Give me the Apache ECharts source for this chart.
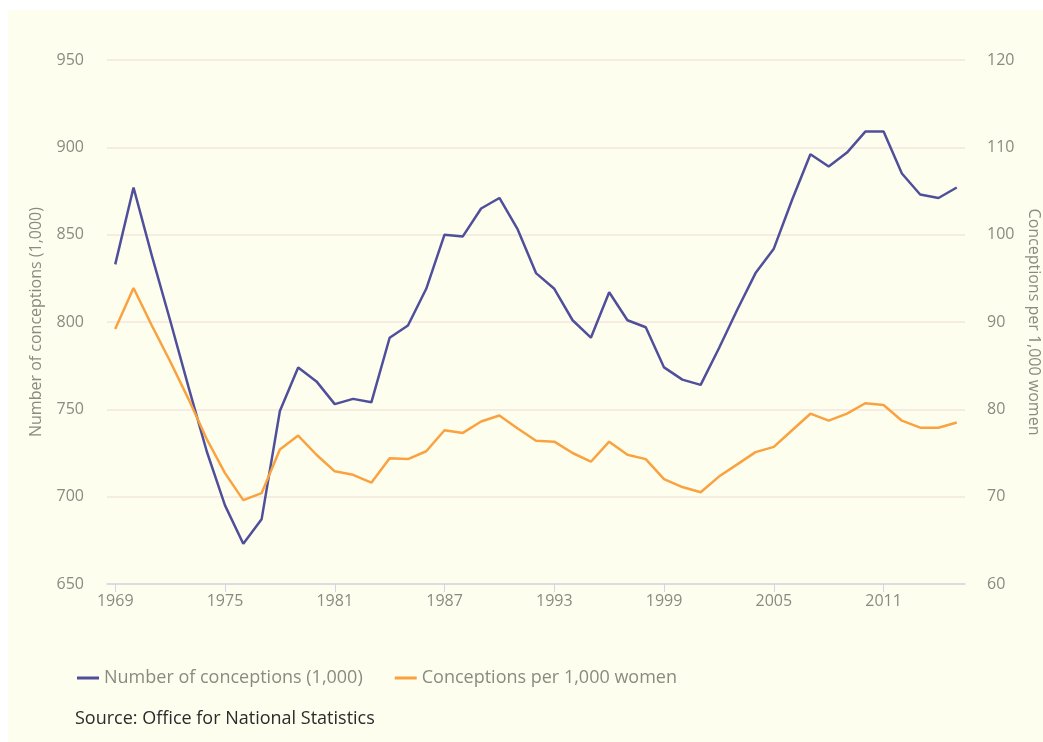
<!DOCTYPE html>
<html>
<head>
<meta charset="utf-8">
<script src="https://cdn.jsdelivr.net/npm/echarts@6/dist/echarts.min.js"></script>
<style>
html,body{margin:0;padding:0;background:#ffffff;width:1043px;height:742px;overflow:hidden;}
#chart{position:absolute;left:8px;top:10px;width:1035px;height:732px;background:#fefeef;}
</style>
</head>
<body>
<div id="chart"></div>
<script>
var years = [1969,1970,1971,1972,1973,1974,1975,1976,1977,1978,1979,1980,1981,1982,1983,1984,1985,1986,1987,1988,1989,1990,1991,1992,1993,1994,1995,1996,1997,1998,1999,2000,2001,2002,2003,2004,2005,2006,2007,2008,2009,2010,2011,2012,2013,2014,2015];
var conceptions = [833,877,838,801,763,726,695,673,687,749,774,766,753,756,754,791,798,819,850,849,865,871,853,828,819,801,791,817,801,797,774,767,764,785,807,828,842,870,896,889,897,909,909,885,873,871,877];
var ratePer1000 = [89.2,93.9,89.6,85.5,81.2,76.6,72.7,69.6,70.4,75.4,77.0,74.8,72.9,72.5,71.6,74.4,74.3,75.2,77.6,77.3,78.6,79.3,77.8,76.4,76.3,75.0,74.0,76.3,74.8,74.3,72.0,71.1,70.5,72.3,73.7,75.1,75.7,77.6,79.5,78.7,79.5,80.7,80.5,78.7,77.9,77.9,78.5];
var xTickYears = [1969,1975,1981,1987,1993,1999,2005,2011];
var seriesNames = ['Number of conceptions (1,000)','Conceptions per 1,000 women'];
var sourceText = 'Source: Office for National Statistics';

var chart = echarts.init(document.getElementById('chart'));
var font = '"Open Sans", sans-serif';
var tickColor = '#8c8a80';
chart.setOption({
  animation:false,
  textStyle:{fontFamily:font},
  grid:{left:99,right:78,top:50,bottom:158,outerBoundsMode:'none',containLabel:false},
  legend:{
    left:64, top:654,
    itemWidth:22, itemHeight:3, itemGap:32,
    icon:'rect',
    textStyle:{color:'#8c8a80',fontSize:18,fontFamily:font},
    data:seriesNames
  },
  graphic:[{
    type:'text', left:67, top:700,
    style:{text:sourceText, fill:'#2b2b2b', font:'18px "Open Sans", sans-serif'}
  }],
  xAxis:{
    type:'value', min:1968.55, max:2015.45,
    axisLine:{show:true, lineStyle:{color:'#d6d4e2', width:1.5}},
    axisTick:{show:true, length:8, customValues:xTickYears, lineStyle:{color:'#d6d4e2'}},
    axisLabel:{customValues:xTickYears, color:tickColor, fontSize:16, margin:9, formatter:function(v){return String(v);}},
    splitLine:{show:false}
  },
  yAxis:[{
    type:'value', min:650, max:950, interval:50,
    name:'Number of conceptions (1,000)', nameLocation:'middle', nameGap:63, nameRotate:90,
    nameTextStyle:{color:tickColor, fontSize:16},
    axisLine:{show:false}, axisTick:{show:false},
    axisLabel:{color:tickColor, fontSize:16, margin:23},
    splitLine:{lineStyle:{color:'#f3e6dc', width:1.5}}
  },{
    type:'value', min:60, max:120, interval:10,
    name:'Conceptions per 1,000 women', nameLocation:'middle', nameGap:59, nameRotate:-90,
    nameTextStyle:{color:tickColor, fontSize:16},
    axisLine:{show:false}, axisTick:{show:false},
    axisLabel:{color:tickColor, fontSize:16, margin:22},
    splitLine:{show:false}
  }],
  series:[{
    name:seriesNames[0], type:'line', yAxisIndex:0, showSymbol:false,
    data:years.map(function(y,i){return [y,conceptions[i]];}),
    lineStyle:{color:'#4f4f9b', width:2.5}, itemStyle:{color:'#4f4f9b'}
  },{
    name:seriesNames[1], type:'line', yAxisIndex:1, showSymbol:false,
    data:years.map(function(y,i){return [y,ratePer1000[i]];}),
    lineStyle:{color:'#f9a23f', width:2.5}, itemStyle:{color:'#f9a23f'}
  }]
});
</script>
</body>
</html>
